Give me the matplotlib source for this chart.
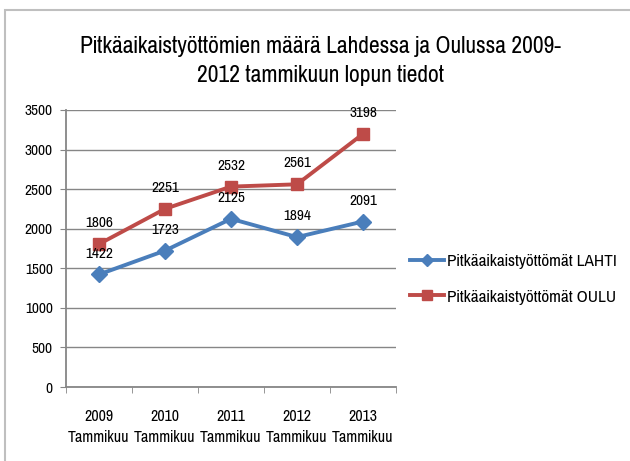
import matplotlib.pyplot as plt
import matplotlib.font_manager as fm
from matplotlib.patches import Rectangle

# kapea fontti, muistuttaa alkuperäistä Excel-kaaviota
paths = fm.findSystemFonts()
cands = [p for p in paths if 'Narrow-Regular' in p or 'SansCondensed.ttf' in p or 'Condensed-Regular' in p]
cands.sort(key=lambda p: ('Narrow' not in p, 'DejaVu' not in p))
found = cands[0] if cands else None
if found:
    fm.fontManager.addfont(found)
    fam = fm.FontProperties(fname=found).get_name()
else:
    fam = 'DejaVu Sans'
plt.rcParams['font.family'] = [fam, 'DejaVu Sans']

years = ['2009', '2010', '2011', '2012', '2013']
month = 'Tammikuu'
lahti = [1422, 1723, 2125, 1894, 2091]
oulu = [1806, 2251, 2532, 2561, 3198]
title = 'Pitkäaikaistyöttömien määrä Lahdessa ja Oulussa 2009-\n2012 tammikuun lopun tiedot'

blue = '#4a7ebb'
red = '#be4b48'
grid_c = '#868686'

fig = plt.figure(figsize=(6.3, 4.61), dpi=100)
ax = fig.add_axes([66 / 630, 74 / 461, 330 / 630, 277 / 461])

x = list(range(len(years)))
ax.plot(x, lahti, color=blue, lw=2.8, marker='D', ms=8, label='Pitkäaikaistyöttömät LAHTI')
ax.plot(x, oulu, color=red, lw=2.8, marker='s', ms=8.5, label='Pitkäaikaistyöttömät OULU')

for xi, v in zip(x, lahti):
    ax.annotate(str(v), (xi, v), xytext=(0, 15), textcoords='offset points',
                ha='center', va='center', fontsize=12)
for xi, v in zip(x, oulu):
    ax.annotate(str(v), (xi, v), xytext=(0, 15), textcoords='offset points',
                ha='center', va='center', fontsize=12)

ax.set_xlim(-0.5, len(years) - 0.5)
ax.set_ylim(0, 3500)
ax.set_yticks(range(0, 3501, 500))
ax.set_xticks(x)
ax.set_xticklabels([f'{y}\n{month}' for y in years], fontsize=12.5, linespacing=1.45)
ax.tick_params(axis='x', length=0, pad=16)
ax.tick_params(axis='y', labelsize=12, length=4.5, color=grid_c, pad=5)
# pienet merkit kategorioiden välissä
ax.set_xticks([i - 0.5 for i in range(len(years) + 1)], minor=True)
ax.tick_params(axis='x', which='minor', length=4.5, color=grid_c)

ax.grid(axis='y', color=grid_c, lw=1)
ax.set_axisbelow(True)
for s in ['top', 'right']:
    ax.spines[s].set_visible(False)
for s in ['left', 'bottom']:
    ax.spines[s].set_color(grid_c)
    ax.spines[s].set_linewidth(1.3)

fig.text(0.508, 1 - 61 / 461, title, ha='center', va='center', fontsize=18.5, linespacing=1.45)

leg = ax.legend(loc='center left', bbox_to_anchor=(1.015, 0.39), frameon=False, fontsize=13.5,
                handlelength=1.8, handletextpad=0.15, labelspacing=1.05, borderpad=0,
                markerscale=0.8)

fig.patches.append(Rectangle((5 / 630, -0.1), 1.0, 1.1 - 10 / 461,
                             transform=fig.transFigure, fill=False, ec='#bfbfbf', lw=1.5))

fig.savefig('out.png', dpi=100)
